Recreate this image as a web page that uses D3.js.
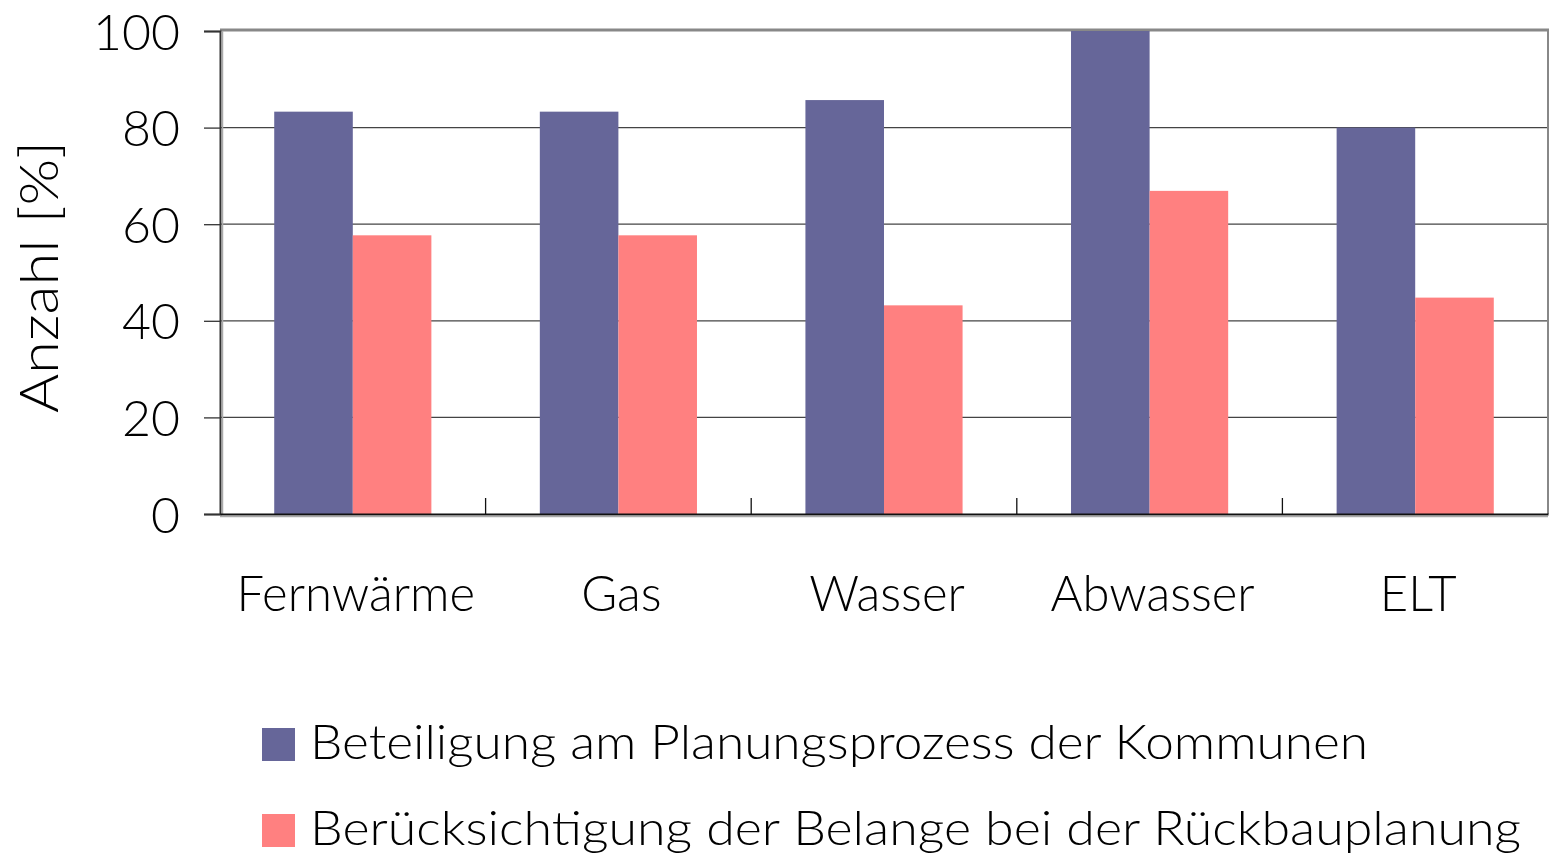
<!DOCTYPE html>
<html>
<head>
<meta charset="utf-8">
<script src="https://cdn.jsdelivr.net/npm/d3@7"></script>
<style>
  body { margin: 0; background: #fff; }
  svg text { font-family: Lato, "Noto Sans", sans-serif; font-weight: 300; fill: #000; }
</style>
</head>
<body>
<div id="chart"></div>
<script>
const categories = ['Fernwärme', 'Gas', 'Wasser', 'Abwasser', 'ELT'];
const seriesNames = ['Beteiligung am Planungsprozess der Kommunen', 'Berücksichtigung der Belange bei der Rückbauplanung'];
const beteiligung = [83.3, 83.3, 85.7, 100, 80];
const beruecksichtigung = [57.7, 57.7, 43.2, 66.9, 44.8];
const yTicks = [0, 20, 40, 60, 80, 100];
const colors = ['#666699', '#FF8080'];

const w = 1551, h = 856;
const padLeft = 220, padRight = 1548, padTop = 31, padBottom = 514;

const svg = d3.select('#chart').append('svg')
  .attr('width', w).attr('height', h);

const xScale = d3.scaleBand().domain(categories).range([padLeft, padRight]);
const xInner = d3.scaleBand().domain([0, 1]).range([0, xScale.bandwidth()]).paddingOuter(0.69).paddingInner(0);
const yScale = d3.scaleLinear().domain([0, 100]).range([padBottom, padTop]);

// gridlines
svg.append('g')
  .selectAll('line')
  .data(yTicks.filter(d => d > 0 && d < 100))
  .enter().append('line')
  .attr('x1', padLeft).attr('x2', padRight)
  .attr('y1', d => yScale(d)).attr('y2', d => yScale(d))
  .attr('stroke', '#444').attr('stroke-width', 1.3);

// frame top / right
svg.append('line').attr('x1', padLeft).attr('x2', padRight + 1).attr('y1', padTop - 1).attr('y2', padTop - 1)
  .attr('stroke', '#888').attr('stroke-width', 3);
svg.append('line').attr('x1', padRight).attr('x2', padRight).attr('y1', padTop - 2).attr('y2', padBottom)
  .attr('stroke', '#888').attr('stroke-width', 2);

// bars
const rows = categories.map((c, i) => ({cat: c, vals: [beteiligung[i], beruecksichtigung[i]]}));
const groups = svg.selectAll('.grp').data(rows).enter().append('g')
  .attr('class', 'grp')
  .attr('transform', d => 'translate(' + xScale(d.cat) + ',0)');
groups.selectAll('rect')
  .data(d => d.vals)
  .enter().append('rect')
  .attr('x', (d, i) => xInner(i))
  .attr('y', d => yScale(d))
  .attr('width', xInner.bandwidth())
  .attr('height', d => padBottom - yScale(d))
  .attr('fill', (d, i) => colors[i]);

// y axis
const yAxis = d3.axisLeft(yScale).tickValues(yTicks).tickSize(16).tickPadding(24);
const gy = svg.append('g').attr('transform', 'translate(' + padLeft + ',0)').call(yAxis);
gy.select('.domain').attr('stroke', '#333').attr('stroke-width', 2);
gy.selectAll('.tick line').attr('stroke', '#333').attr('stroke-width', 1.3);
gy.selectAll('.tick text').attr('font-size', 50).attr('dy', '0.36em').style('font-family', 'Lato, sans-serif');
// shadow of y axis
svg.append('line').attr('x1', padLeft + 2.5).attr('x2', padLeft + 2.5).attr('y1', padTop).attr('y2', padBottom)
  .attr('stroke', '#aaa').attr('stroke-width', 1.5);

// x axis with inward ticks at band boundaries
const xAxis = d3.axisBottom(xScale).tickSize(0).tickPadding(62);
const gx = svg.append('g').attr('transform', 'translate(0,' + padBottom + ')').call(xAxis);
gx.select('.domain').attr('stroke', '#111').attr('stroke-width', 2);
gx.selectAll('.tick text').attr('font-size', 49).attr('dy', '0.71em').attr('dx', 3);
svg.append('line').attr('x1', padLeft).attr('x2', padRight).attr('y1', padBottom + 2.5).attr('y2', padBottom + 2.5)
  .attr('stroke', '#aaa').attr('stroke-width', 1.5);
svg.append('g').selectAll('line')
  .data(categories.slice(1))
  .enter().append('line')
  .attr('x1', d => xScale(d)).attr('x2', d => xScale(d))
  .attr('y1', padBottom).attr('y2', padBottom - 16)
  .attr('stroke', '#111').attr('stroke-width', 1.3);

// y label
svg.append('text')
  .attr('transform', 'translate(58,277) rotate(-90)')
  .attr('text-anchor', 'middle')
  .attr('font-size', 53)
  .attr('textLength', 272)
  .attr('lengthAdjust', 'spacingAndGlyphs')
  .text('Anzahl [%]');

// legend
const legendLengths = [1058, 1211];
const legend = svg.selectAll('.leg').data(seriesNames).enter().append('g')
  .attr('class', 'leg')
  .attr('transform', (d, i) => 'translate(262,' + (728 + i * 86) + ')');
legend.append('rect').attr('width', 33).attr('height', 33).attr('fill', (d, i) => colors[i]);
legend.append('text')
  .attr('x', 48).attr('y', 31)
  .attr('font-size', 48)
  .attr('textLength', (d, i) => legendLengths[i])
  .attr('lengthAdjust', 'spacingAndGlyphs')
  .text(d => d);
</script>
</body>
</html>
